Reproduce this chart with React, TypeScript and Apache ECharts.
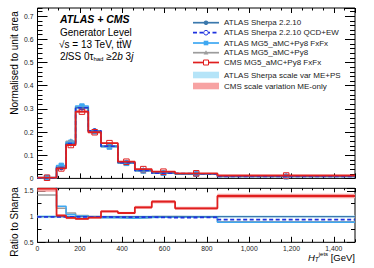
import React, { useEffect, useRef } from "react";
import * as echarts from "echarts";

// ---------- data ----------
const binEdges = [0, 90, 135, 180, 240, 300, 380, 460, 540, 650, 850, 1500];

// Normalised distributions (top panel)
const sherpa = [0.002, 0.047, 0.150, 0.305, 0.204, 0.140, 0.068, 0.034, 0.023, 0.019, 0.009];
const sherpaQcdEw = [0.002, 0.047, 0.151, 0.305, 0.205, 0.139, 0.067, 0.034, 0.022, 0.019, 0.0085];
const mg5FxFx = [0.004, 0.056, 0.156, 0.312, 0.202, 0.136, 0.066, 0.033, 0.023, 0.019, 0.008];
const mg5 = [0.003, 0.054, 0.160, 0.308, 0.204, 0.137, 0.066, 0.033, 0.023, 0.019, 0.008];
const cmsFxFx = [0.003, 0.043, 0.144, 0.288, 0.199, 0.152, 0.072, 0.040, 0.029, 0.022, 0.0125];

// Ratios to Sherpa (bottom panel)
const ratioSherpa = [1, 1, 1, 1, 1, 1, 1, 1, 1, 1, 1];
const ratioSherpaQcdEw = [0.995, 0.995, 0.995, 0.995, 0.995, 0.99, 0.99, 0.99, 0.98, 0.985, 0.94];
const ratioMg5FxFx = [1.6, 1.2, 1.04, 1.01, 0.99, 0.975, 0.97, 0.98, 0.99, 0.99, 0.89];
const ratioMg5 = [1.42, 1.16, 1.07, 1.02, 1.0, 0.98, 0.97, 0.975, 1.0, 0.99, 0.9];
const ratioCms = [1.545, 1.02, 0.975, 0.955, 0.98, 1.1, 1.07, 1.18, 1.29, 1.16, 1.4];

// Relative scale-variation uncertainties
const sherpaScaleRel = [0.03, 0.025, 0.025, 0.025, 0.02, 0.02, 0.02, 0.02, 0.02, 0.02, 0.02];
const cmsScaleRel = [0.04, 0.03, 0.025, 0.02, 0.02, 0.02, 0.02, 0.025, 0.025, 0.025, 0.03];

// Tick values
const xMajor = 200;
const xMinor = 50;
const xMax = 1500;
const topYMax = 0.735;
const ratioYMin = 0.5;
const ratioYMax = 1.55;

const legendNames = [
  "ATLAS Sherpa 2.2.10",
  "ATLAS Sherpa 2.2.10 QCD+EW",
  "ATLAS MG5_aMC+Py8 FxFx",
  "ATLAS MG5_aMC+Py8",
  "CMS MG5_aMC+Py8 FxFx",
  "ATLAS Sherpa scale var ME+PS",
  "CMS scale variation ME-only",
];

// ---------- styles ----------
const FONT = '"Liberation Sans", Arial, Helvetica, sans-serif';
const C_SHERPA = "#3b79ad";
const C_QCDEW = "#1f33e0";
const C_FXFX = "#3ea8f2";
const C_MG5 = "#9c9c9c";
const C_CMS = "#e01f1f";
const C_SHERPA_BAND = "#b5e4f8";
const C_CMS_BAND = "#f7a3a3";

function steps(vals: number[]) {
  const pts: number[][] = [];
  for (let i = 0; i < vals.length; i++) {
    pts.push([binEdges[i], vals[i]]);
    pts.push([binEdges[i + 1], vals[i]]);
  }
  return pts;
}
function centers(vals: number[]) {
  return vals.map((v, i) => [(binEdges[i] + binEdges[i + 1]) / 2, v]);
}
function band(vals: number[], rel: number[]) {
  return vals.map((v, i) => [binEdges[i], binEdges[i + 1], v * (1 - rel[i]), v * (1 + rel[i])]);
}

const tickLine = { color: "#000", width: 1 };

function xAx(grid: number, pos: string, interval: number, len: number, labels: boolean) {
  return {
    type: "value",
    gridIndex: grid,
    position: pos,
    min: 0,
    max: xMax,
    interval,
    axisLine: { show: false, onZero: false },
    splitLine: { show: false },
    axisTick: { show: true, inside: true, length: len, lineStyle: tickLine },
    axisLabel: labels
      ? { show: true, fontSize: 6.8, color: "#222", fontFamily: FONT, margin: 3, showMaxLabel: false }
      : { show: false },
  };
}
function yAx(grid: number, pos: string, min: number, max: number, interval: number, len: number, labels: boolean) {
  return {
    type: "value",
    gridIndex: grid,
    position: pos,
    min,
    max,
    interval,
    axisLine: { show: false, onZero: false },
    splitLine: { show: false },
    axisTick: { show: true, inside: true, length: len, lineStyle: tickLine },
    axisLabel: labels
      ? { show: true, fontSize: 6.8, color: "#222", fontFamily: FONT, margin: 4, showMaxLabel: false }
      : { show: false },
  };
}

function bandSeries(data: number[][], color: string, xi: number, yi: number) {
  return {
    type: "custom",
    xAxisIndex: xi,
    yAxisIndex: yi,
    data,
    encode: { x: [0, 1], y: [2, 3] },
    silent: true,
    renderItem: (params: any, api: any) => {
      const p1 = api.coord([api.value(0), api.value(3)]);
      const p2 = api.coord([api.value(1), api.value(2)]);
      const cs = params.coordSys;
      const shape = echarts.graphic.clipRectByRect(
        { x: p1[0], y: p1[1], width: p2[0] - p1[0], height: p2[1] - p1[1] },
        { x: cs.x, y: cs.y, width: cs.width, height: cs.height }
      );
      if (!shape) return null;
      return { type: "rect", shape, style: { fill: color } };
    },
  };
}

function lineSeries(vals: number[], color: string, width: number, xi: number, yi: number, dash?: number[]) {
  return {
    type: "line",
    xAxisIndex: xi,
    yAxisIndex: yi,
    data: steps(vals),
    showSymbol: false,
    symbol: "none",
    silent: true,
    clip: true,
    lineStyle: { color, width, type: dash ? dash : "solid" },
  };
}

function markerSeries(vals: number[], symbol: string, size: number, fill: string, border: string) {
  return {
    type: "scatter",
    xAxisIndex: 0,
    yAxisIndex: 0,
    data: centers(vals),
    symbol,
    symbolSize: size,
    silent: true,
    itemStyle: { color: fill, borderColor: border, borderWidth: 1, opacity: 1 },
  };
}

// ---------- legend / annotations (graphic) ----------
const LX1 = 193;
const LX2 = 219;
const LXM = 206;
const LTX = 224;
const legendRows = [22.7, 32.7, 43, 52.7, 62.5];
const boxRows = [75, 86];
const LFS = 8;

function legendGraphics() {
  const g: any[] = [];
  const defs = [
    { color: C_SHERPA, dash: null, marker: "circleFilled" },
    { color: C_QCDEW, dash: [4, 2.5], marker: "circleOpen" },
    { color: C_FXFX, dash: null, marker: "squareFilled" },
    { color: C_MG5, dash: null, marker: "triangle" },
    { color: C_CMS, dash: null, marker: "squareOpen" },
  ];
  defs.forEach((d, i) => {
    const y = legendRows[i];
    g.push({
      type: "line",
      shape: { x1: LX1, y1: y, x2: LX2, y2: y },
      style: { stroke: d.color, lineWidth: 1.7, lineDash: d.dash || null },
    });
    if (d.marker === "circleFilled") {
      g.push({ type: "circle", shape: { cx: LXM, cy: y, r: 2.3 }, style: { fill: d.color } });
    } else if (d.marker === "circleOpen") {
      g.push({ type: "circle", shape: { cx: LXM, cy: y, r: 2.3 }, style: { fill: "#fff", stroke: d.color, lineWidth: 1 } });
    } else if (d.marker === "squareFilled") {
      g.push({ type: "rect", shape: { x: LXM - 2.3, y: y - 2.3, width: 4.6, height: 4.6 }, style: { fill: d.color } });
    } else if (d.marker === "triangle") {
      g.push({
        type: "polygon",
        shape: { points: [[LXM, y - 2.4], [LXM - 2.4, y + 1.8], [LXM + 2.4, y + 1.8]] },
        style: { fill: d.color },
      });
    } else {
      g.push({
        type: "rect",
        shape: { x: LXM - 2.5, y: y - 2.5, width: 5, height: 5 },
        style: { fill: "#fff", stroke: d.color, lineWidth: 1 },
      });
    }
    g.push({
      type: "text",
      x: LTX,
      y,
      style: { text: legendNames[i], fontSize: LFS, fontFamily: FONT, fill: "#222", align: "left", verticalAlign: "middle" },
    });
  });
  [C_SHERPA_BAND, C_CMS_BAND].forEach((c, j) => {
    const y = boxRows[j];
    g.push({ type: "rect", shape: { x: LX1, y: y - 3.3, width: LX2 - LX1, height: 6.6 }, style: { fill: c } });
    g.push({
      type: "text",
      x: LTX,
      y,
      style: { text: legendNames[5 + j], fontSize: LFS, fontFamily: FONT, fill: "#222", align: "left", verticalAlign: "middle" },
    });
  });
  return g;
}

function annotationGraphics() {
  const base = { fontFamily: FONT, fill: "#000", align: "left", verticalAlign: "middle" };
  return [
    {
      type: "text",
      x: 60,
      y: 19,
      style: { ...base, text: "ATLAS + CMS", fontSize: 10.5, fontWeight: "bold", fontStyle: "italic" },
    },
    { type: "text", x: 60, y: 32.5, style: { ...base, text: "Generator Level", fontSize: 10 } },
    { type: "text", x: 59, y: 44, style: { ...base, text: "\u221As = 13 TeV, tt\u0304W", fontSize: 10 } },
    {
      type: "text",
      x: 60,
      y: 56,
      style: {
        ...base,
        text: "{n|2}{i|l}{n|SS 0\u03C4}{sub|had}{n| \u22652}{i|b}{n| 3}{i|j}",
        fontSize: 10,
        rich: {
          n: { fontSize: 10, fontFamily: FONT, fill: "#000", lineHeight: 12 },
          i: { fontSize: 10, fontFamily: FONT, fill: "#000", fontStyle: "italic", lineHeight: 12 },
          sub: { fontSize: 6, fontFamily: FONT, fill: "#000", lineHeight: 4, verticalAlign: "bottom" },
        },
      },
    },
    // y-axis titles
    {
      type: "text",
      x: 14,
      y: 63,
      rotation: Math.PI / 2,
      style: { fontFamily: FONT, fill: "#000", text: "Normalised to unit area", fontSize: 10, align: "center", verticalAlign: "middle" },
    },
    {
      type: "text",
      x: 14,
      y: 222,
      rotation: Math.PI / 2,
      style: { fontFamily: FONT, fill: "#000", text: "Ratio to Sharpa", fontSize: 10, align: "center", verticalAlign: "middle" },
    },
    // x-axis title
    {
      type: "text",
      x: 355,
      y: 257,
      style: {
        fontFamily: FONT,
        fill: "#000",
        align: "right",
        verticalAlign: "middle",
        text: "{h|H}{t|T}{s|jets}{n| [GeV]}",
        rich: {
          h: { fontSize: 9.5, fontFamily: FONT, fontStyle: "italic", fill: "#000", lineHeight: 12 },
          t: { fontSize: 6.5, fontFamily: FONT, fontStyle: "italic", fill: "#000", lineHeight: 3, verticalAlign: "bottom" },
          s: { fontSize: 6, fontFamily: FONT, fill: "#000", lineHeight: 3, verticalAlign: "top" },
          n: { fontSize: 9.5, fontFamily: FONT, fill: "#000", lineHeight: 12 },
        },
      },
    },
  ];
}

function buildOption() {
  const G0 = { left: 37.5, top: 8, width: 317.5, height: 170.4 };
  const G1 = { left: 37.5, top: 188.3, width: 317.5, height: 54 };
  const gridCommon = { show: true, borderColor: "#000", borderWidth: 1, backgroundColor: "transparent", containLabel: false, outerBoundsMode: "none" };

  return {
    animation: false,
    backgroundColor: "#fff",
    grid: [
      { ...gridCommon, ...G0 },
      { ...gridCommon, ...G1 },
    ],
    xAxis: [
      xAx(0, "bottom", xMajor, 5, false),
      xAx(0, "bottom", xMinor, 2.5, false),
      xAx(0, "top", xMajor, 5, false),
      xAx(0, "top", xMinor, 2.5, false),
      xAx(1, "bottom", xMajor, 5.5, true),
      xAx(1, "bottom", xMinor, 3, false),
      xAx(1, "top", xMajor, 4, false),
      xAx(1, "top", xMinor, 2, false),
    ],
    yAxis: [
      yAx(0, "left", 0, topYMax, 0.1, 10, true),
      yAx(0, "left", 0, topYMax, 0.02, 5, false),
      yAx(0, "right", 0, topYMax, 0.1, 10, false),
      yAx(0, "right", 0, topYMax, 0.02, 5, false),
      yAx(1, "left", ratioYMin, ratioYMax, 0.5, 8, true),
      yAx(1, "left", ratioYMin, ratioYMax, 0.25, 4, false),
      yAx(1, "right", ratioYMin, ratioYMax, 0.5, 8, false),
      yAx(1, "right", ratioYMin, ratioYMax, 0.25, 4, false),
    ],
    series: [
      // top panel
      bandSeries(band(sherpa, sherpaScaleRel), C_SHERPA_BAND, 0, 0),
      bandSeries(band(cmsFxFx, cmsScaleRel), C_CMS_BAND, 0, 0),
      lineSeries(mg5, C_MG5, 1.5, 0, 0),
      lineSeries(mg5FxFx, C_FXFX, 1.5, 0, 0),
      lineSeries(sherpa, C_SHERPA, 1.5, 0, 0),
      lineSeries(sherpaQcdEw, C_QCDEW, 1.5, 0, 0, [4, 2.5]),
      lineSeries(cmsFxFx, C_CMS, 1.8, 0, 0),
      markerSeries(mg5, "triangle", 5, C_MG5, C_MG5),
      markerSeries(sherpa, "circle", 4.5, C_SHERPA, C_SHERPA),
      markerSeries(sherpaQcdEw, "circle", 4.5, "rgba(255,255,255,0)", C_QCDEW),
      markerSeries(mg5FxFx, "rect", 4.5, C_FXFX, C_FXFX),
      markerSeries(cmsFxFx, "rect", 5.5, "rgba(255,255,255,0)", C_CMS),
      // ratio panel
      bandSeries(band(ratioSherpa, sherpaScaleRel), C_SHERPA_BAND, 4, 4),
      bandSeries(band(ratioCms, cmsScaleRel), C_CMS_BAND, 4, 4),
      lineSeries(ratioMg5, C_MG5, 1.5, 4, 4),
      lineSeries(ratioMg5FxFx, C_FXFX, 1.5, 4, 4),
      lineSeries(ratioSherpa, C_SHERPA, 1.2, 4, 4),
      lineSeries(ratioSherpaQcdEw, C_QCDEW, 1.8, 4, 4, [4, 2.5]),
      lineSeries(ratioCms, C_CMS, 1.8, 4, 4),
    ],
    graphic: [...annotationGraphics(), ...legendGraphics()],
  };
}

export default function App() {
  const ref = useRef<HTMLDivElement>(null);
  useEffect(() => {
    document.body.style.margin = "0";
    const chart = echarts.init(ref.current as HTMLDivElement, null, { renderer: "svg", width: 374, height: 268 });
    chart.setOption(buildOption() as any);
    return () => {
      chart.dispose();
    };
  }, []);
  return (
    <div
      ref={ref}
      style={{ position: "absolute", left: 0, top: 0, width: 374, height: 268, background: "#fff" }}
    />
  );
}
